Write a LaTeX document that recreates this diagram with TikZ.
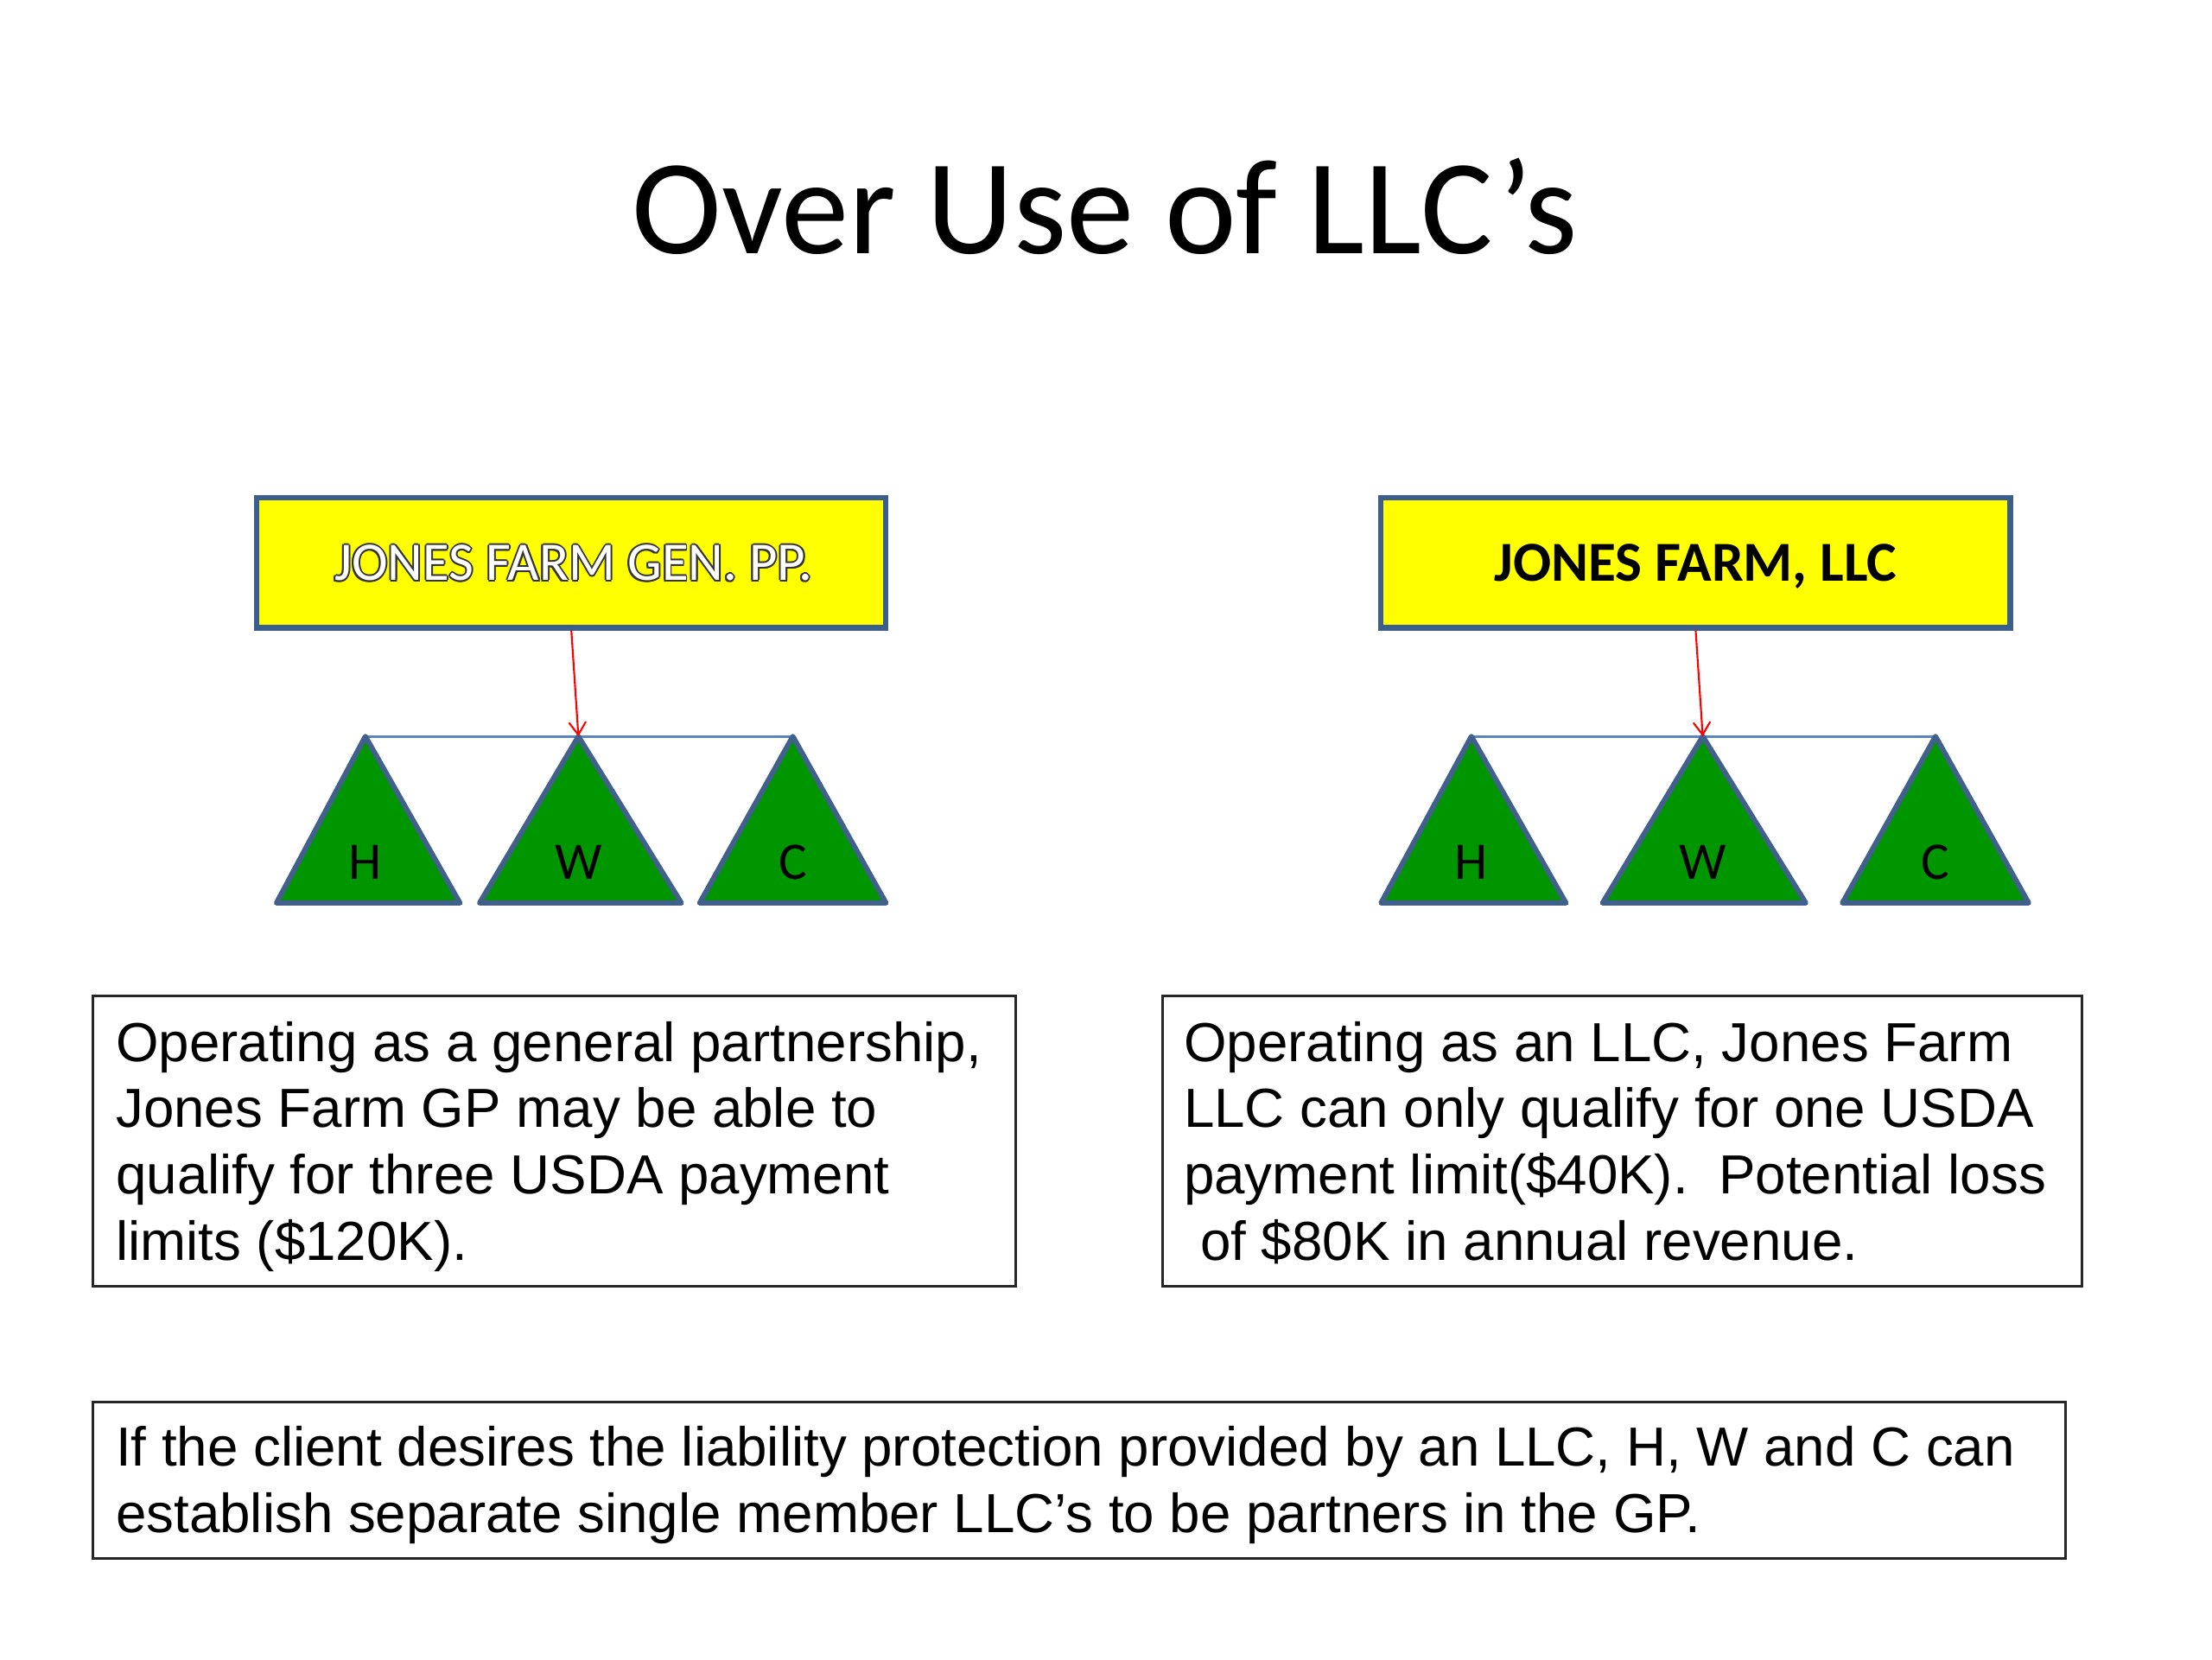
\documentclass[tikz,border=0pt]{standalone}
\usepackage{fontspec}
\setmainfont{Liberation Sans}
\newfontfamily\calibri{Carlito}
\usetikzlibrary{arrows.meta}
\definecolor{ybox}{HTML}{FFFF00}
\definecolor{bord}{HTML}{3B5E8C}
\definecolor{trig}{HTML}{009600}
\definecolor{trigbord}{HTML}{41608C}
\definecolor{lnblue}{HTML}{5A85BD}
\newcommand\hoff[3]{\rlap{\kern#1\raise#2\hbox{\color{black!80}#3}}}
\newcommand\hollowtxt[1]{\leavevmode
\hoff{1.2pt}{0pt}{#1}\hoff{-1.2pt}{0pt}{#1}\hoff{0pt}{1.2pt}{#1}\hoff{0pt}{-1.2pt}{#1}%
\hoff{.85pt}{.85pt}{#1}\hoff{-.85pt}{.85pt}{#1}\hoff{.85pt}{-.85pt}{#1}\hoff{-.85pt}{-.85pt}{#1}%
\hbox{\color{white}#1}}
\begin{document}
\begin{tikzpicture}[x=1pt,y=-1pt,
  yellowbox/.style={draw=bord,line width=3.8pt,fill=ybox,minimum width=446pt,minimum height=92pt,inner sep=0pt},
  tri/.style={draw=trigbord,line width=3.7pt,fill=trig,line join=round},
  letter/.style={font=\calibri\fontsize{37.5}{44}\selectfont,anchor=base,inner sep=0pt},
  blueline/.style={draw=lnblue,line width=1.8pt},
  redarrow/.style={draw=red,line width=1.3pt,-{Straight Barb[length=9pt,width=12pt,line width=1.3pt]}},
  textbox/.style={draw=black!85,line width=1.8pt,anchor=north west,inner sep=0pt},
  body/.style={font=\fontsize{39}{47}\selectfont,align=left,anchor=north west,inner sep=0pt}]
\useasboundingbox (0,0) rectangle (1568,1176);
\fill[white] (0,0) rectangle (1568,1176);

\node[font=\calibri\fontsize{96}{116}\selectfont,anchor=base,inner sep=0pt] (title) at (783,180) {Over Use of LLC’s};

% left structure
\node[yellowbox,font=\calibri\fontsize{38.5}{46}\selectfont,text height=24.8pt,text depth=0pt] (gp) at (405,399) {\hspace*{3pt}\hollowtxt{JONES FARM GEN. PP.}};
\coordinate (gpH) at (259,522);
\coordinate (gpW) at (410,522);
\coordinate (gpC) at (562,522);
\draw[blueline] (gpH) -- (gpC);
\draw[tri] (gpH) -- (196,640) -- (326,640) -- cycle;
\draw[tri] (gpW) -- (340,640) -- (483,640) -- cycle;
\draw[tri] (gpC) -- (496,640) -- (628,640) -- cycle;
\node[letter] (gpHl) at (259,623) {H};
\node[letter] (gpWl) at (410,623) {W};
\node[letter] (gpCl) at (562,623) {C};
\draw[redarrow] (gp.south) -- (gpW);

% right structure
\node[yellowbox,font=\calibri\bfseries\fontsize{40}{48}\selectfont,text height=25.8pt,text depth=0pt] (llc) at (1202,399) {JONES FARM, LLC};
\coordinate (llcH) at (1043,522);
\coordinate (llcW) at (1207,522);
\coordinate (llcC) at (1372,522);
\draw[blueline] (llcH) -- (llcC);
\draw[tri] (llcH) -- (979,640) -- (1110,640) -- cycle;
\draw[tri] (llcW) -- (1136,640) -- (1280,640) -- cycle;
\draw[tri] (llcC) -- (1306,640) -- (1438,640) -- cycle;
\node[letter] (llcHl) at (1043,623) {H};
\node[letter] (llcWl) at (1207,623) {W};
\node[letter] (llcCl) at (1372,623) {C};
\draw[redarrow] (llc.south) -- (llcW);

% text boxes
\node[textbox,minimum width=654pt,minimum height=206pt] (gpbox) at (65,705) {};
\node[body] (gptext) at (82,722) {\rule{0pt}{30pt}Operating as a general partnership,\\Jones Farm GP may be able to\\qualify for three USDA payment\\limits (\$120K).};

\node[textbox,minimum width=652pt,minimum height=206pt] (llcbox) at (823,705) {};
\node[body] (llctext) at (839,722) {\rule{0pt}{30pt}Operating as an LLC, Jones Farm\\LLC can only qualify for one USDA\\payment limit(\$40K).\ \ Potential loss\\\hspace*{0.3em}of \$80K in annual revenue.};

\node[textbox,minimum width=1398pt,minimum height=111pt] (notebox) at (65,993) {};
\node[body] (notetext) at (82,1009) {\rule{0pt}{30pt}If the client desires the liability protection provided by an LLC, H, W and C can\\establish separate single member LLC’s to be partners in the GP.};
\end{tikzpicture}
\end{document}
